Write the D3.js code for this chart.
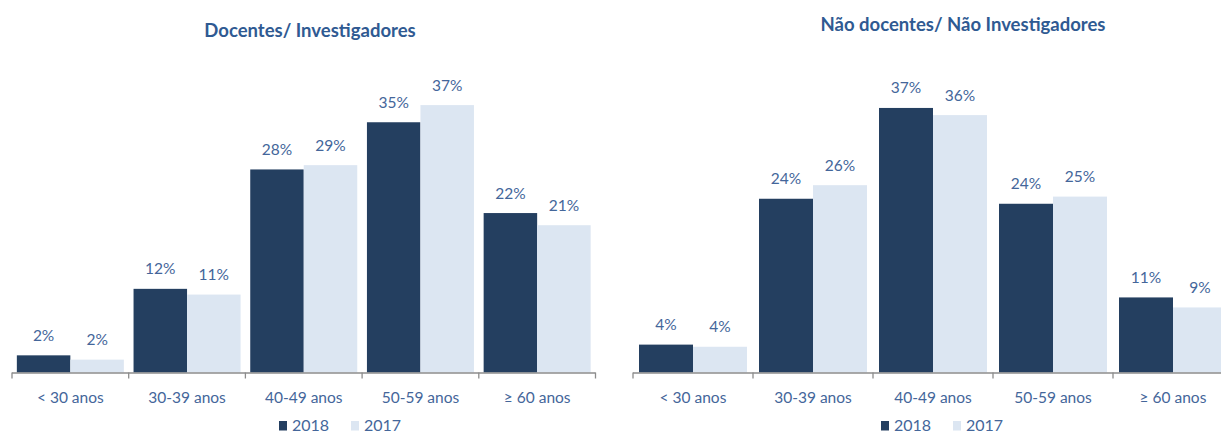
<!DOCTYPE html>
<html>
<head>
<meta charset="utf-8">
<script src="https://cdn.jsdelivr.net/npm/d3@7"></script>
<style>
  html, body { margin: 0; padding: 0; background: #fff; }
  svg { display: block; font-family: Lato, "Open Sans", sans-serif; }
</style>
</head>
<body>
<svg id="chart" width="1221" height="433"></svg>
<script>
// Age groups and yearly shares (%) of staff
const categories = ["< 30 anos", "30-39 anos", "40-49 anos", "50-59 anos", "\u2265 60 anos"];
const series = ["2018", "2017"];

const docentes2018 = [2.4, 11.7, 28.4, 35.0, 22.3];
const docentes2017 = [1.8, 10.9, 29.0, 37.4, 20.6];

const naoDocentes2018 = [3.9, 24.3, 37.0, 23.6, 10.5];
const naoDocentes2017 = [3.6, 26.2, 36.0, 24.6, 9.1];

const titles = ["Docentes/ Investigadores", "N\u00e3o docentes/ N\u00e3o Investigadores"];

const colors = { "2018": "#243F60", "2017": "#DCE6F2" };
const textColor = "#44669A";
const titleColor = "#2F5A92";

const svg = d3.select("#chart");

const panels = [
  { title: titles[0], values: [docentes2018, docentes2017], x0: 12, x1: 595.5, pad: 0.083,
    titleX: 310, titleY: 37, legendX: 279 },
  { title: titles[1], values: [naoDocentes2018, naoDocentes2017], x0: 633, x1: 1233, pad: 0.1,
    titleX: 963, titleY: 31, legendX: 881 }
];

const axisY = 372.5;
const y = d3.scaleLinear().domain([0, 40]).range([axisY, axisY - 7.15 * 40]);

panels.forEach(p => {
  const g = svg.append("g");

  const x = d3.scaleBand().domain(categories).range([p.x0, p.x1])
    .paddingInner(p.pad).paddingOuter(p.pad / 2);
  const xs = d3.scaleBand().domain(series).range([0, x.bandwidth()]);

  // Title
  g.append("text")
    .attr("x", p.titleX).attr("y", p.titleY)
    .attr("text-anchor", "middle")
    .attr("font-size", 18.5).attr("font-weight", "bold")
    .attr("fill", titleColor)
    .text(p.title);

  // Bars
  const rows = [];
  categories.forEach((c, i) => series.forEach((s, j) => rows.push({ c, s, v: p.values[j][i] })));

  g.selectAll("rect.bar").data(rows).join("rect")
    .attr("class", "bar")
    .attr("x", d => x(d.c) + xs(d.s))
    .attr("width", xs.bandwidth())
    .attr("y", d => y(d.v))
    .attr("height", d => y(0) - y(d.v))
    .attr("fill", d => colors[d.s]);

  // Value labels
  g.selectAll("text.val").data(rows).join("text")
    .attr("class", "val")
    .attr("x", d => x(d.c) + xs(d.s) + xs.bandwidth() / 2)
    .attr("y", d => y(d.v) - 14.5)
    .attr("text-anchor", "middle")
    .attr("font-size", 15.5)
    .attr("fill", textColor)
    .text(d => Math.round(d.v) + "%");

  // Category axis
  const step = x.step();
  const ticks = d3.range(categories.length + 1).map(i => p.x0 + i * step);
  const axis = g.append("g");
  axis.append("line")
    .attr("x1", p.x0).attr("x2", p.x1)
    .attr("y1", axisY + 0.5).attr("y2", axisY + 0.5)
    .attr("stroke", "#8C8C8C").attr("stroke-width", 1.3);
  axis.selectAll("line.tick").data(ticks).join("line")
    .attr("class", "tick")
    .attr("x1", d => d).attr("x2", d => d)
    .attr("y1", axisY).attr("y2", axisY + 6)
    .attr("stroke", "#8C8C8C").attr("stroke-width", 1.3);
  axis.selectAll("text.cat").data(categories).join("text")
    .attr("class", "cat")
    .attr("x", d => x(d) + x.bandwidth() / 2)
    .attr("y", 402.5)
    .attr("text-anchor", "middle")
    .attr("font-size", 15.5)
    .attr("fill", textColor)
    .text(d => d);

  // Legend
  const lg = g.append("g").attr("transform", `translate(${p.legendX},421)`);
  series.forEach((s, i) => {
    const item = lg.append("g").attr("transform", `translate(${i * 72},0)`);
    item.append("rect").attr("width", 8).attr("height", 9.5).attr("fill", colors[s]);
    item.append("text").attr("x", 13).attr("y", 10)
      .attr("font-size", 16).attr("fill", textColor).text(s);
  });
});
</script>
</body>
</html>
